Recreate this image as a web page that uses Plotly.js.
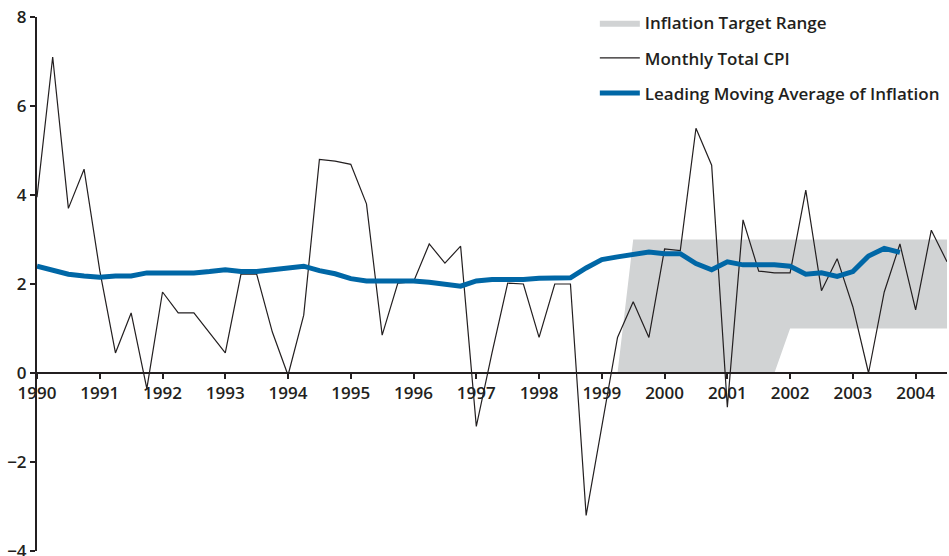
<!DOCTYPE html>
<html>
<head>
<meta charset="utf-8">
<script src="https://cdn.plot.ly/plotly-3.0.1.min.js"></script>
<style>
  html, body { margin: 0; padding: 0; background: #ffffff; }
  #chart { width: 949px; height: 556px; }
</style>
</head>
<body>
<div id="chart"></div>
<script>
// Quarterly series starting in 1990 Q1
const startYear = 1990;
const stepYears = 0.25;

// Monthly Total CPI (sampled quarterly), percent
const cpiValues = [
  3.95, 7.1, 3.7, 4.58,
  2.3, 0.45, 1.35, -0.35,
  1.82, 1.35, 1.35, 0.9,
  0.45, 2.22, 2.22, 0.92,
  -0.05, 1.3, 4.8, 4.76,
  4.69, 3.8, 0.85, 2.02,
  2.05, 2.9, 2.47, 2.85,
  -1.2, 0.45, 2.02, 2.0,
  0.8, 2.0, 2.0, -3.2,
  -1.2, 0.8, 1.6, 0.8,
  2.79, 2.75, 5.5, 4.67,
  -0.77, 3.44, 2.29, 2.25,
  2.25, 4.11, 1.85, 2.57,
  1.49, 0.0, 1.82, 2.9,
  1.42, 3.21, 2.5
];

// Leading Moving Average of Inflation, percent
const lmaValues = [
  2.4, 2.3, 2.22, 2.18,
  2.15, 2.18, 2.18, 2.25,
  2.25, 2.25, 2.25, 2.28,
  2.32, 2.28, 2.28, 2.32,
  2.36, 2.4, 2.3, 2.23,
  2.12, 2.07, 2.07, 2.07,
  2.07, 2.04, 2.0, 1.95,
  2.07, 2.1, 2.1, 2.1,
  2.13, 2.13, 2.14, 2.36,
  2.55, 2.61, 2.66, 2.72,
  2.68, 2.68, 2.46, 2.32,
  2.5, 2.43, 2.43, 2.43,
  2.4, 2.22, 2.25, 2.17,
  2.28, 2.63, 2.8, 2.71
];

// Inflation target range (upper and lower bounds)
const targetUpperX = [1999.25, 1999.5, 2004.5];
const targetUpperY = [0, 3, 3];
const targetLowerX = [1999.25, 2001.75, 2002.0, 2004.5];
const targetLowerY = [0, 0, 1, 1];

// Axis ticks
const xTickVals = [1990, 1991, 1992, 1993, 1994, 1995, 1996, 1997, 1998, 1999, 2000, 2001, 2002, 2003, 2004];
const yTickVals = [-4, -2, 0, 2, 4, 6, 8];

const labels = {
  band: 'Inflation Target Range',
  cpi: 'Monthly Total CPI',
  lma: 'Leading Moving Average of Inflation'
};

const cpiX = cpiValues.map((_, i) => startYear + i * stepYears);
const lmaX = lmaValues.map((_, i) => startYear + i * stepYears);

// polygon: upper bound left->right, lower bound right->left
const bandX = targetUpperX.concat(targetLowerX.slice().reverse());
const bandY = targetUpperY.concat(targetLowerY.slice().reverse());

const ink = '#231f20';
const fontFam = '"Open Sans", "DejaVu Sans", sans-serif';

const traces = [
  {
    x: bandX, y: bandY, type: 'scatter', mode: 'lines',
    fill: 'toself', fillcolor: '#d1d3d4',
    line: { width: 0, color: '#d1d3d4' },
    name: labels.band, legendgroup: 'a', hoverinfo: 'skip'
  },
  {
    x: cpiX, y: cpiValues, type: 'scatter', mode: 'lines',
    line: { color: ink, width: 1.2 },
    name: labels.cpi, legendgroup: 'b'
  },
  {
    x: lmaX, y: lmaValues, type: 'scatter', mode: 'lines',
    line: { color: '#0067a6', width: 5 },
    name: labels.lma, legendgroup: 'c'
  }
];

const layout = {
  width: 949, height: 556,
  margin: { l: 37, r: 2, t: 17, b: 5, pad: 0 },
  paper_bgcolor: '#ffffff', plot_bgcolor: '#ffffff',
  font: { family: fontFam, color: ink, size: 17, weight: 600 },
  showlegend: true,
  legend: {
    x: 0.613, y: 1.022, xanchor: 'left', yanchor: 'top',
    bgcolor: 'rgba(0,0,0,0)', borderwidth: 0,
    tracegroupgap: 10,
    itemwidth: 40,
    font: { family: fontFam, size: 17, color: ink, weight: 600 }
  },
  xaxis: {
    range: [1990, 2004.5],
    tickvals: xTickVals,
    ticktext: xTickVals.map(String),
    anchor: 'free', position: 1 / 3,
    showline: true, linecolor: ink, linewidth: 2,
    ticks: 'outside', ticklen: 5, tickwidth: 2, tickcolor: ink,
    showgrid: false, zeroline: false,
    tickfont: { family: fontFam, size: 17, color: ink, weight: 600 },
    automargin: false, fixedrange: true
  },
  yaxis: {
    range: [-4, 8],
    tickvals: yTickVals,
    showline: true, linecolor: ink, linewidth: 2,
    ticks: 'outside', ticklen: 5, tickwidth: 2, tickcolor: ink,
    showgrid: false, zeroline: false,
    ticklabeloverflow: 'allow',
    tickfont: { family: fontFam, size: 17, color: ink, weight: 600 },
    automargin: false, fixedrange: true
  }
};

Plotly.newPlot('chart', traces, layout, { displayModeBar: false, staticPlot: true });
</script>
</body>
</html>
